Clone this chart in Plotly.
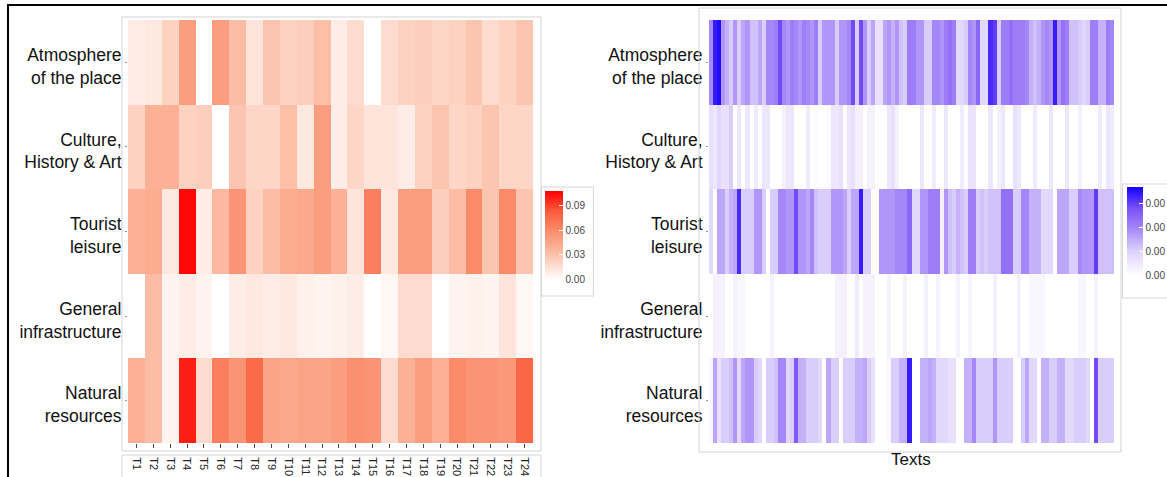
import plotly.graph_objects as go

W, H = 1167, 477

# ---------------- data ----------------
themes = ["Atmosphere<br>of the place", "Culture,<br>History & Art", "Tourist<br>leisure",
          "General<br>infrastructure", "Natural<br>resources"]

topics = ["T%d" % i for i in range(1, 25)]

topic_atmosphere = [0.009, 0.011, 0.022, 0.050, 0.0, 0.050, 0.033, 0.013, 0.028, 0.022, 0.024, 0.031,
                    0.009, 0.017, 0.0, 0.017, 0.022, 0.024, 0.020, 0.022, 0.028, 0.017, 0.022, 0.028]
topic_culture = [0.022, 0.039, 0.039, 0.022, 0.024, 0.0, 0.028, 0.020, 0.020, 0.031, 0.011, 0.050,
                 0.009, 0.020, 0.013, 0.013, 0.009, 0.022, 0.028, 0.020, 0.022, 0.028, 0.020, 0.020]
topic_tourist = [0.039, 0.042, 0.011, 0.105, 0.009, 0.035, 0.055, 0.022, 0.033, 0.042, 0.044, 0.050,
                 0.039, 0.013, 0.066, 0.011, 0.050, 0.050, 0.024, 0.033, 0.060, 0.028, 0.060, 0.028]
topic_general = [0.0, 0.033, 0.006, 0.009, 0.006, 0.0, 0.009, 0.011, 0.009, 0.011, 0.007, 0.006,
                 0.007, 0.009, 0.0, 0.004, 0.017, 0.017, 0.0, 0.006, 0.007, 0.006, 0.013, 0.004]
topic_natural = [0.039, 0.033, 0.006, 0.099, 0.017, 0.066, 0.055, 0.075, 0.046, 0.044, 0.047, 0.047,
                 0.050, 0.057, 0.055, 0.017, 0.039, 0.050, 0.039, 0.060, 0.055, 0.055, 0.053, 0.077]

texts = list(range(1, 101))

# per-text values, in thousandths
text_atmosphere_milli = [
    2.0, 3.4, 3.6, 1.8, 1.45, 1.1, 1.8, 1.1, 1.6, 1.8,
    1.25, 1.25, 1.6, 1.1, 2.0, 2.0, 2.15, 2.9, 2.0, 1.8,
    2.15, 2.0, 1.8, 2.15, 2.0, 1.8, 2.15, 1.1, 1.8, 1.8,
    1.8, 1.1, 1.8, 1.8, 2.0, 2.9, 1.1, 2.9, 1.8, 1.1,
    1.6, 0.7, 0.7, 1.6, 1.8, 1.45, 1.8, 1.25, 1.1, 2.15,
    2.15, 1.8, 1.8, 1.1, 1.1, 2.0, 2.0, 1.8, 2.15, 2.35,
    2.15, 0.9, 0.9, 1.1, 2.0, 1.8, 2.5, 0.9, 0.9, 3.25,
    3.05, 1.1, 2.15, 2.15, 2.35, 2.15, 2.15, 2.15, 2.0, 1.45,
    1.25, 1.45, 1.8, 2.0, 1.8, 3.4, 1.8, 2.35, 2.15, 1.25,
    1.25, 1.1, 0.9, 1.1, 2.15, 2.15, 1.45, 1.45, 2.15, 2.0]
text_culture_milli = [
    0.7, 0.55, 0.9, 0.7, 0.7, 1.1, 0.0, 0.55, 0.0, 0.55,
    0.0, 0.45, 0.0, 0.55, 0.55, 0.0, 0.0, 0.0, 0.35, 0.55,
    0.55, 0.0, 0.0, 0.0, 0.45, 0.0, 0.1, 0.0, 0.0, 0.1,
    0.55, 0.55, 0.7, 0.0, 0.55, 0.7, 0.35, 0.35, 0.0, 0.3,
    0.3, 0.0, 0.0, 0.0, 0.55, 0.7, 0.3, 0.0, 0.0, 0.0,
    0.0, 0.0, 0.55, 0.0, 0.0, 0.45, 0.0, 0.0, 0.55, 0.0,
    0.0, 0.0, 0.45, 0.0, 0.65, 0.65, 0.0, 0.0, 0.0, 0.55,
    0.0, 0.35, 0.55, 0.0, 0.0, 0.7, 0.55, 0.0, 0.0, 0.0,
    0.45, 0.0, 0.0, 0.0, 0.55, 0.0, 0.0, 0.0, 0.55, 0.0,
    0.0, 0.35, 0.0, 0.0, 0.0, 0.0, 0.45, 0.0, 0.55, 0.45]
text_tourist_milli = [
    0.9, 0.0, 1.6, 1.6, 1.1, 1.45, 1.6, 3.25, 1.1, 1.1,
    1.1, 1.8, 1.8, 1.1, 0.0, 1.1, 1.1, 2.0, 2.0, 1.8,
    1.8, 2.9, 1.8, 1.8, 1.6, 2.0, 1.25, 1.1, 1.1, 1.1,
    1.8, 1.8, 1.8, 1.6, 1.1, 1.6, 1.6, 3.4, 1.1, 1.1,
    0.0, 0.0, 1.8, 1.8, 1.8, 1.8, 2.0, 2.0, 2.0, 2.5,
    0.9, 0.9, 1.8, 1.8, 2.15, 2.15, 2.15, 0.35, 1.8, 1.25,
    1.1, 1.45, 1.25, 1.1, 2.15, 2.15, 1.1, 1.25, 1.1, 1.25,
    1.25, 1.25, 2.35, 2.35, 2.35, 1.1, 1.1, 2.0, 2.0, 1.45,
    1.45, 1.45, 0.9, 0.9, 0.9, 0.0, 1.6, 1.6, 1.6, 1.1,
    1.1, 2.0, 1.8, 1.8, 1.8, 3.05, 1.25, 1.25, 1.25, 1.25]
text_general_milli = [
    0.0, 0.3, 0.3, 0.3, 0.0, 0.0, 0.35, 0.2, 0.2, 0.0,
    0.0, 0.0, 0.0, 0.0, 0.0, 0.3, 0.0, 0.0, 0.0, 0.0,
    0.0, 0.0, 0.0, 0.0, 0.0, 0.0, 0.0, 0.0, 0.0, 0.0,
    0.0, 0.35, 0.35, 0.35, 0.0, 0.0, 0.45, 0.0, 0.3, 0.3,
    0.3, 0.0, 0.0, 0.0, 0.3, 0.0, 0.0, 0.0, 0.35, 0.0,
    0.0, 0.0, 0.0, 0.35, 0.0, 0.0, 0.3, 0.0, 0.0, 0.0,
    0.0, 0.3, 0.0, 0.0, 0.2, 0.0, 0.0, 0.0, 0.0, 0.0,
    0.3, 0.0, 0.0, 0.0, 0.0, 0.0, 0.35, 0.0, 0.0, 0.2,
    0.2, 0.2, 0.2, 0.0, 0.0, 0.0, 0.0, 0.0, 0.0, 0.0,
    0.0, 0.2, 0.2, 0.0, 0.0, 0.3, 0.0, 0.0, 0.0, 0.0]
text_natural_milli = [
    0.2, 1.6, 0.7, 1.1, 1.1, 1.25, 1.8, 0.9, 1.6, 1.8,
    1.8, 1.1, 0.9, 0.0, 1.1, 1.1, 1.25, 2.0, 2.0, 0.9,
    1.1, 2.7, 1.45, 1.45, 1.1, 1.1, 1.1, 0.9, 0.0, 1.6,
    1.1, 1.1, 0.0, 1.1, 1.1, 1.1, 1.45, 1.45, 1.6, 1.1,
    0.7, 0.0, 0.0, 0.0, 0.2, 1.1, 1.1, 1.45, 1.45, 3.4,
    0.0, 0.0, 1.45, 1.45, 1.6, 1.45, 0.9, 0.9, 0.9, 0.7,
    0.7, 0.0, 0.0, 1.45, 1.45, 2.0, 1.1, 1.1, 1.1, 1.1,
    1.8, 1.1, 1.1, 1.1, 1.1, 0.0, 0.0, 1.1, 1.6, 0.9,
    0.9, 0.0, 1.45, 1.45, 1.1, 1.1, 1.45, 1.45, 0.9, 0.9,
    1.1, 1.1, 1.1, 0.9, 0.0, 2.9, 1.1, 1.1, 1.1, 1.1]

# ---------------- helpers ----------------
def px_x(x):
    return x / W

def px_y(y):
    return 1 - y / H

topic_z = [topic_atmosphere, topic_culture, topic_tourist, topic_general, topic_natural]
text_z = [[v / 1000.0 for v in row] for row in
          [text_atmosphere_milli, text_culture_milli, text_tourist_milli,
           text_general_milli, text_natural_milli]]

FONT = "Liberation Sans, Arial, Helvetica, sans-serif"

red_scale = [[0.0, "#ffffff"], [0.112, "#ffffff"], [0.35, "#fcc4ae"],
             [0.6, "#fb8d6c"], [0.8, "#fa5a3a"], [1.0, "#ff0000"]]
blue_scale = [[0.0, "#ffffff"], [0.17, "#ffffff"], [0.4, "#ddd2fc"],
              [0.6, "#a88cf8"], [0.8, "#7a52f6"], [1.0, "#1400ff"]]

fig = go.Figure()

fig.add_trace(go.Heatmap(
    z=topic_z, x=topics, y=themes, xaxis="x", yaxis="y",
    colorscale=red_scale, zmin=-0.0135, zmax=0.107,
    hoverongaps=False,
    colorbar=dict(
        x=px_x(542), xanchor="left", y=px_y(241), yanchor="middle",
        len=108, lenmode="pixels", thickness=18, thicknessmode="pixels",
        xpad=3, ypad=4, bgcolor="#ffffff", bordercolor="#d6d6d6", borderwidth=1,
        outlinewidth=0, tick0=0, dtick=0.03, tickformat=".2f",
        ticks="inside", ticklen=4, tickcolor="#ffffff",
        tickfont=dict(family=FONT, size=10, color="#444444")),
))

fig.add_trace(go.Heatmap(
    z=text_z, x=texts, y=themes, xaxis="x2", yaxis="y2",
    colorscale=blue_scale, zmin=-0.00076, zmax=0.00372,
    colorbar=dict(
        x=px_x(1123), xanchor="left", y=px_y(240), yanchor="middle",
        len=113, lenmode="pixels", thickness=16, thicknessmode="pixels",
        xpad=4, ypad=3, bgcolor="#ffffff", bordercolor="#d6d6d6", borderwidth=1,
        outlinewidth=0, tick0=0, dtick=0.001, tickformat=".2f",
        ticks="inside", ticklen=4, tickcolor="#ffffff",
        tickfont=dict(family=FONT, size=10, color="#444444")),
))

ydom = [px_y(443), px_y(20)]

fig.update_layout(
    width=W, height=H, autosize=False,
    margin=dict(l=0, r=0, t=0, b=0, autoexpand=False),
    paper_bgcolor="#ffffff", plot_bgcolor="#ffffff",
    font=dict(family=FONT, color="#111111"),
    xaxis=dict(domain=[px_x(128), px_x(533)], anchor="y", type="category",
               tickangle=90, ticks="outside", ticklen=4, tickcolor="#444444",
               tickfont=dict(size=11, color="#222222"), showgrid=False,
               zeroline=False, showline=False, automargin=False,
               ticklabelstandoff=7),
    yaxis=dict(domain=ydom, anchor="x", type="category", autorange="reversed",
               ticks="outside", ticklen=2, tickcolor="#999999",
               tickfont=dict(size=17.5, color="#111111"), showgrid=False,
               zeroline=False, automargin=False, ticklabelshift=-4),
    xaxis2=dict(domain=[px_x(709), px_x(1114)], anchor="y2", range=[0.5, 100.5],
                showticklabels=False, ticks="", showgrid=False, zeroline=False,
                automargin=False),
    yaxis2=dict(domain=ydom, anchor="x2", type="category", autorange="reversed",
                ticks="outside", ticklen=2, tickcolor="#999999",
                tickfont=dict(size=17.5, color="#111111"), showgrid=False,
                zeroline=False, automargin=False, ticklabelshift=-4),
)

fig.add_annotation(text="Texts", x=px_x(911), y=px_y(459), xref="paper", yref="paper",
                   showarrow=False, xanchor="center", yanchor="middle",
                   font=dict(family=FONT, size=17, color="#111111"))

frame = dict(type="rect", xref="paper", yref="paper", line=dict(color="#d4d4d4", width=1),
             fillcolor="rgba(0,0,0,0)", layer="above")
fig.add_shape(x0=px_x(122), x1=px_x(541), y0=px_y(451), y1=px_y(17), **frame)
fig.add_shape(x0=px_x(122), x1=px_x(541), y0=px_y(520), y1=px_y(455), **frame)
fig.add_shape(x0=px_x(699), x1=px_x(1121), y0=px_y(452), y1=px_y(8), **frame)
# outer black border (top and left edges visible)
fig.add_shape(type="rect", xref="paper", yref="paper",
              x0=px_x(8), x1=px_x(1250), y0=px_y(560), y1=px_y(5),
              line=dict(color="#000000", width=2), fillcolor="rgba(0,0,0,0)", layer="above")

fig.write_html("out.html", config={"displayModeBar": False, "responsive": False},
               post_script="document.documentElement.style.overflow='hidden';"
                           "document.body.style.margin='0px';document.body.style.overflow='hidden';")
